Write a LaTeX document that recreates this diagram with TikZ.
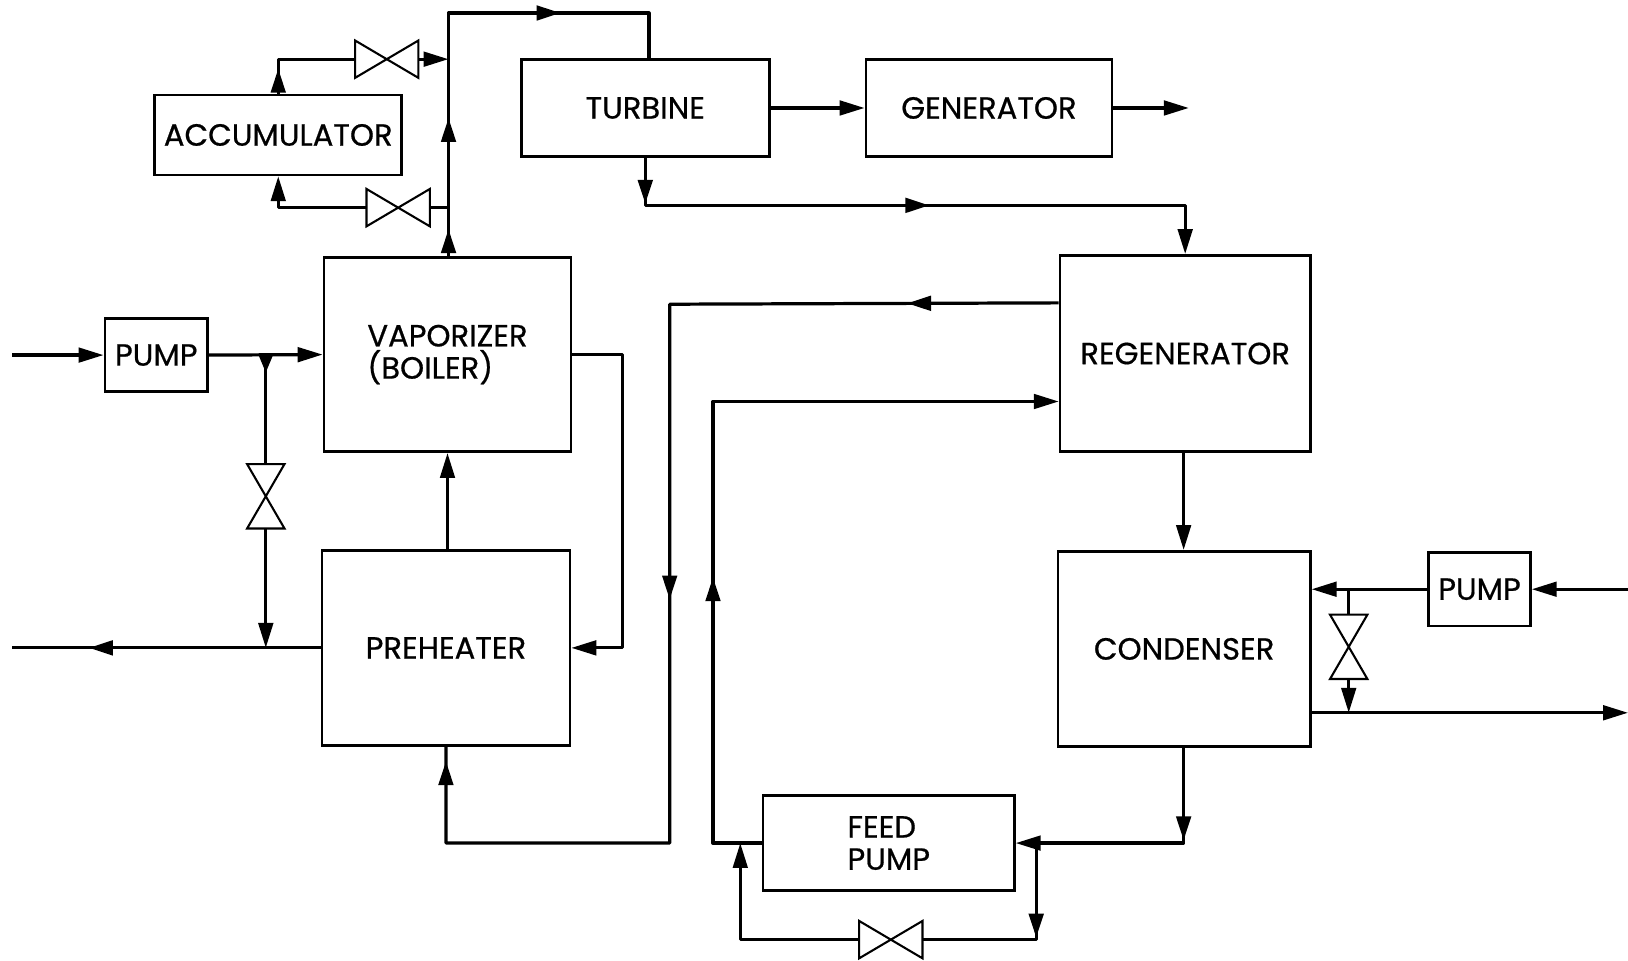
\documentclass[tikz,border=0pt]{standalone}
\usepackage{fontspec}
\setmainfont{Poppins}
\newfontfamily\boxfont{Poppins}[FakeBold=0.6]
\usetikzlibrary{arrows.meta,decorations.markings,calc}
\tikzset{
  box/.style={draw, line width=2.6pt, inner sep=0pt, align=left,
    font=\boxfont\fontsize{29.5}{31}\selectfont},
  pipe/.style={line width=3.1pt, line join=round},
  arr/.style={-{Triangle[length=24pt,width=14pt]}},
  marr/.style={postaction={decorate,decoration={markings,
    mark=at position #1 with {\arrow{Triangle[length=23pt,width=14pt]}}}}},
  smarr/.style={postaction={decorate,decoration={markings,
    mark=at position #1 with {\arrow{Triangle[length=17pt,width=13pt]}}}}},
  hvalve/.pic={
    \draw[line width=2pt, line join=miter] (-30.5,-18) -- (30.5,18) -- (30.5,-18) -- (-30.5,18) -- cycle;
    \coordinate (-w) at (-30.5,0); \coordinate (-e) at (30.5,0);},
  vvalve/.pic={
    \draw[line width=2pt, line join=miter] (-18,-31) -- (18,31) -- (-18,31) -- (18,-31) -- cycle;
    \coordinate (-n) at (0,-31); \coordinate (-s) at (0,31);},
}
\begin{document}
\begin{tikzpicture}[x=1pt,y=-1pt]
\useasboundingbox (0,0) rectangle (1568,925);
% boxes
\node[box,minimum width=238pt,minimum height=77pt] (acc) at (268,130) {ACCUMULATOR};
\node[box,minimum width=239pt,minimum height=94pt] (turb) at (621.5,104) {TURBINE};
\node[box,minimum width=237pt,minimum height=94pt] (gen) at (952.5,104) {GENERATOR};
\node[box,minimum width=238pt,minimum height=187pt] (vap) at (431,341.5) {VAPORIZER\\(BOILER)};
\node[box,minimum width=239pt,minimum height=188pt] (pre) at (429.5,624) {PREHEATER};
\node[box,minimum width=99pt,minimum height=70pt] (pumpL) at (150.5,342) {PUMP};
\node[box,minimum width=241pt,minimum height=189pt] (regen) at (1141.5,340.5) {REGENERATOR};
\node[box,minimum width=243pt,minimum height=188pt] (cond) at (1140.5,625) {CONDENSER};
\node[box,minimum width=98pt,minimum height=71pt] (pumpR) at (1425,567.5) {PUMP};
\node[box,minimum width=242pt,minimum height=92pt] (feed) at (856,812) {FEED\\PUMP};
% valves
\pic (va) at (372.5,57) {hvalve};
\pic (vb) at (383.5,200) {hvalve};
\pic (vc) at (256,478) {vvalve};
\pic (vd) at (1299,623) {vvalve};
\pic (ve) at (858,905) {hvalve};
% coordinates
\coordinate (top1) at (432,12.5);
\coordinate (top2) at (625,12.5);
\coordinate (inL) at (12,342);
\coordinate (jL) at (256,342);
\coordinate (outL) at (12,624);
\coordinate (inR) at (1568,567.5);
\coordinate (jR) at (1299,567.5);
\coordinate (outR) at (1568,686.5);
\coordinate (bpL) at (713,812);
\coordinate (bpR) at (998,812);
\coordinate (genout) at (1145,104);
% steam line
\draw[pipe,marr=26pt,marr=133pt,marr=342pt] (top1 |- vap.north) -- (top1) -- (top2) -- (top2 |- turb.north);
\draw[pipe,marr=24pt] (acc.north) -- (acc.north |- va-w) -- (va-w);
\draw[pipe,arr] (va-e) -- (va-e -| top1);
\draw[pipe] (top1 |- vb-e) -- (vb-e);
\draw[pipe,arr] (vb-w) -| (acc.south);
% left pump
\draw[pipe,arr] (inL) -- (pumpL.west);
\draw[pipe,arr] (pumpL.east) -- (vap.west);
\draw[pipe,smarr=17pt] (jL) -- (vc-n);
\draw[pipe,arr] (vc-s) -- (vc-s |- pre.west);
\draw[pipe,marr=223pt] (pre.west) -- (outL);
\draw[pipe,arr] (vap.east) -- ++(48,0) |- (pre.east);
\draw[pipe,arr] (vap.south |- pre.north) -- (vap.south);
% turbine / generator
\draw[pipe,arr] (turb.east) -- (gen.west);
\draw[pipe,arr] (gen.east) -- (genout);
\draw[pipe,arr,marr=44pt,marr=319pt] (turb.south) -- ++(0,45.5) -| (regen.north);
% regenerator loops
\draw[pipe,marr=146pt,marr=659pt,marr=1188pt] ($(regen.north west)+(0,47)$) -- (645,293) -- (645,812) -- (pre.south |- 0,812) -- (pre.south);
\draw[pipe,arr,marr=303pt] (feed.west) -- ++(-47,0) |- ($(regen.north west)+(0,142)$);
\draw[pipe,arr] (regen.south -| 1140,0) -- (cond.north -| 1140,0);
% feed pump
\draw[pipe,arr,marr=89pt] (cond.south -| 1140,0) -- (1140,812) -- (feed.east);
\draw[pipe,arr] (ve-w) -| (bpL);
\draw[pipe,marr=91pt] (bpR) |- (ve-e);
% right pump
\draw[pipe,arr] (inR) -- (pumpR.east);
\draw[pipe,arr] (pumpR.west) -- (cond.east |- pumpR.west);
\draw[pipe] (jR) -- (vd-n);
\draw[pipe,arr] (vd-s) -- (vd-s |- outR);
\draw[pipe,arr] (cond.east |- outR) -- (outR);
\end{tikzpicture}
\end{document}
